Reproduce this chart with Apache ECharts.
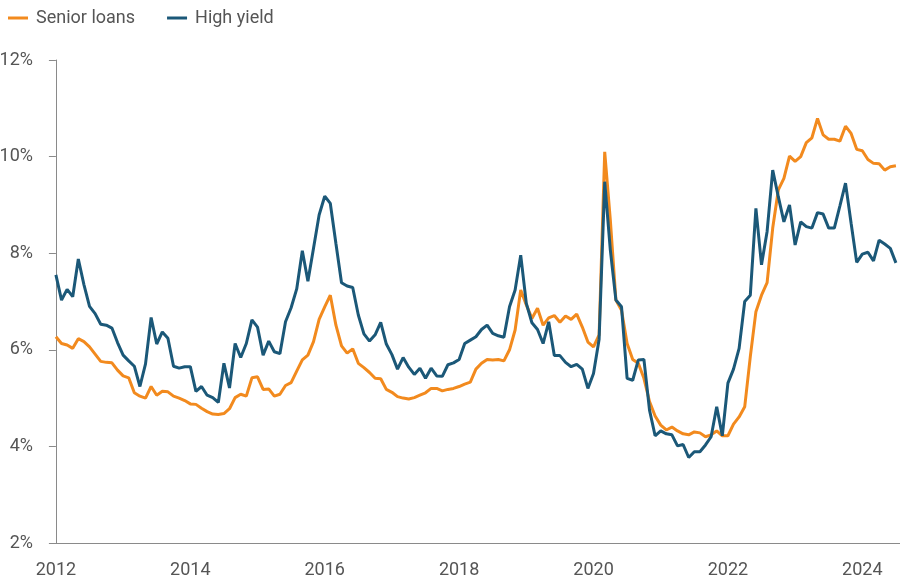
<!DOCTYPE html>
<html>
<head>
<meta charset="utf-8">
<script src="https://cdn.jsdelivr.net/npm/echarts@6/dist/echarts.min.js"></script>
<style>
html,body{margin:0;padding:0;background:#fff;}
#chart{width:900px;height:582px;}
</style>
</head>
<body>
<div id="chart"></div>
<script>
// Monthly observations, Jan 2012 .. Jul 2024
var startYear = 2012;
var monthCount = 151;
var months = [];
for (var k = 0; k < monthCount; k++) {
  var yy = startYear + Math.floor(k / 12);
  var mm = (k % 12) + 1;
  months.push(yy + '-' + (mm < 10 ? '0' + mm : mm));
}

var seniorLoans = [
  6.27,6.13,6.10,6.03,6.23,6.17,6.06,5.91,5.76,5.74,5.73,5.58,
  5.46,5.42,5.11,5.04,5.00,5.24,5.06,5.14,5.13,5.04,5.00,4.95,
  4.88,4.87,4.79,4.72,4.67,4.66,4.68,4.78,5.01,5.08,5.04,5.42,
  5.44,5.18,5.19,5.04,5.08,5.26,5.32,5.56,5.79,5.89,6.17,6.63,
  6.89,7.13,6.51,6.08,5.93,6.02,5.72,5.63,5.53,5.41,5.40,5.18,
  5.12,5.03,5.00,4.98,5.01,5.06,5.11,5.20,5.20,5.15,5.18,5.20,
  5.24,5.29,5.33,5.60,5.72,5.80,5.79,5.80,5.77,6.00,6.41,7.24,
  6.93,6.65,6.86,6.51,6.66,6.71,6.57,6.70,6.63,6.74,6.47,6.16,
  6.06,6.31,10.10,8.69,7.03,6.82,6.13,5.80,5.72,5.41,4.93,4.63,
  4.44,4.34,4.40,4.32,4.26,4.24,4.30,4.28,4.20,4.24,4.32,4.22,
  4.22,4.46,4.61,4.82,5.86,6.79,7.13,7.39,8.52,9.31,9.55,10.01,
  9.90,10.00,10.29,10.39,10.79,10.45,10.36,10.36,10.32,10.63,10.48,10.15,
  10.12,9.94,9.86,9.85,9.72,9.79,9.81
];

var highYield = [
  7.55,7.03,7.25,7.10,7.88,7.35,6.90,6.75,6.53,6.51,6.45,6.15,
  5.89,5.77,5.66,5.24,5.71,6.67,6.12,6.37,6.24,5.66,5.62,5.65,
  5.65,5.14,5.24,5.06,5.01,4.91,5.72,5.21,6.13,5.84,6.13,6.62,
  6.47,5.89,6.18,5.96,5.92,6.58,6.87,7.26,8.05,7.42,8.10,8.79,
  9.18,9.03,8.20,7.39,7.32,7.29,6.72,6.33,6.18,6.31,6.57,6.12,
  5.90,5.60,5.84,5.64,5.49,5.62,5.41,5.62,5.46,5.45,5.69,5.73,
  5.80,6.13,6.20,6.27,6.42,6.51,6.34,6.29,6.26,6.89,7.24,7.96,
  6.96,6.56,6.42,6.13,6.58,5.88,5.88,5.74,5.65,5.70,5.60,5.20,
  5.51,6.22,9.48,8.07,7.03,6.89,5.41,5.37,5.79,5.80,4.75,4.22,
  4.32,4.26,4.24,4.01,4.04,3.77,3.89,3.89,4.03,4.20,4.82,4.22,
  5.31,5.60,6.03,7.00,7.13,8.93,7.76,8.45,9.72,9.17,8.65,9.00,
  8.17,8.65,8.55,8.52,8.84,8.81,8.52,8.52,8.98,9.45,8.62,7.81,
  7.98,8.02,7.84,8.27,8.19,8.10,7.80
];

var xTickLabels = ['2012','2014','2016','2018','2020','2022','2024'];
var yTicks = [2,4,6,8,10,12];

var xTickIdx = xTickLabels.map(function (y) { return months.indexOf(y + '-01'); });

function pairs(arr) {
  return arr.map(function (v, i) { return [i, v]; });
}

var textColor = '#555555';
var axisColor = '#8a8a8a';
var fontFam = 'Roboto, "Open Sans", sans-serif';

var chart = echarts.init(document.getElementById('chart'), null, {renderer: 'canvas'});
chart.setOption({
  animation: false,
  backgroundColor: '#ffffff',
  legend: {
    left: 3,
    top: 4,
    itemWidth: 20,
    itemHeight: 3,
    itemGap: 32,
    icon: 'rect',
    textStyle: {color: textColor, fontSize: 18, fontFamily: fontFam, padding: [0, 0, 0, 3]},
    data: ['Senior loans', 'High yield']
  },
  grid: {left: 52, right: 0, top: 60, bottom: 39, containLabel: false, outerBoundsMode: 'none'},
  xAxis: {
    type: 'value',
    min: -0.7,
    max: 150.73,
    axisLine: {show: true, lineStyle: {color: axisColor, width: 1}},
    axisTick: {show: false},
    splitLine: {show: false},
    axisLabel: {
      customValues: xTickIdx,
      color: textColor,
      fontSize: 18,
      fontFamily: fontFam,
      margin: 18,
      formatter: function (v) {
        var idx = xTickIdx.indexOf(Math.round(v));
        return idx >= 0 ? xTickLabels[idx] : '';
      }
    }
  },
  yAxis: {
    type: 'value',
    min: 2,
    max: 12,
    interval: 2,
    axisLine: {show: true, lineStyle: {color: axisColor, width: 1}},
    axisTick: {show: true, length: 7, lineStyle: {color: axisColor}},
    splitLine: {show: false},
    axisLabel: {
      color: textColor,
      fontSize: 18,
      fontFamily: fontFam,
      margin: 19,
      formatter: '{value}%'
    }
  },
  series: [
    {
      name: 'Senior loans',
      type: 'line',
      data: pairs(seniorLoans),
      showSymbol: false,
      symbol: 'none',
      lineStyle: {color: '#F28A1E', width: 3},
      itemStyle: {color: '#F28A1E'},
      z: 2
    },
    {
      name: 'High yield',
      type: 'line',
      data: pairs(highYield),
      showSymbol: false,
      symbol: 'none',
      lineStyle: {color: '#1B5878', width: 3},
      itemStyle: {color: '#1B5878'},
      z: 3
    }
  ]
});
</script>
</body>
</html>
